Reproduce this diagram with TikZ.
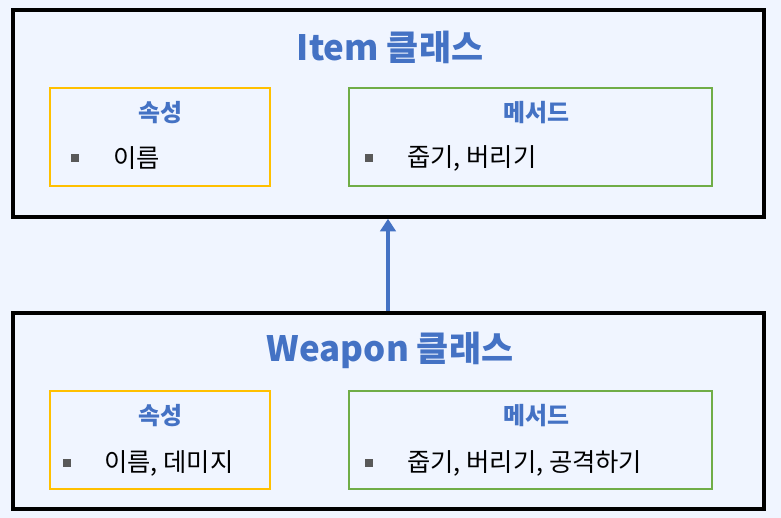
\documentclass[tikz,border=0pt]{standalone}
\usepackage{fontspec}
\setmainfont{Noto Sans CJK KR}
\usetikzlibrary{arrows.meta,positioning}
\definecolor{pageblue}{HTML}{F0F5FF}
\definecolor{titleblue}{HTML}{4472C4}
\definecolor{attryellow}{HTML}{FFC000}
\definecolor{methgreen}{HTML}{70AD47}
\definecolor{bulletgray}{HTML}{595959}

\begin{document}
\begin{tikzpicture}[
    x=0.025cm, y=-0.025cm,
    classbox/.style={draw=black, line width=2.5pt, minimum width=751*0.025cm},
    attrbox/.style={draw=attryellow, line width=2.1pt, minimum width=220*0.025cm, minimum height=98*0.025cm},
    methbox/.style={draw=methgreen, line width=2.1pt, minimum width=363*0.025cm, minimum height=98*0.025cm},
    classtitle/.style={font=\bfseries\fontsize{24.8}{28}\selectfont, text=titleblue},
    boxhead/.style={font=\bfseries\fontsize{17}{20}\selectfont, text=titleblue},
    member/.style={anchor=west, font=\fontsize{18}{20}\selectfont, text=black, inner sep=0pt},
    bullet/.style={fill=bulletgray, minimum size=5.5pt, inner sep=0pt}
]

\fill[pageblue] (0,0) rectangle (781,518);
\useasboundingbox (0,0) rectangle (781,518);

% Item class
\node[classbox, minimum height=207*0.025cm] (item) at (388.5, 113.5) {};
\node[classtitle] (itemtitle) at (390, 47) {Item 클래스};
\node[attrbox] (itemattr) at (160, 137) {};
\node[boxhead] (itemattrhead) at (160, 113) {속성};
\node[bullet] (itemattrbul) at (75, 158) {};
\node[member] (itemattrtext) at (113, 158) {이름};
\node[methbox] (itemmeth) at (530.5, 137) {};
\node[boxhead] (itemmethhead) at (536, 113) {메서드};
\node[bullet] (itemmethbul) at (369, 158) {};
\node[member] (itemmethtext) at (407, 158) {줍기, 버리기};

% Weapon class
\node[classbox, minimum height=196*0.025cm] (weapon) at (388.5, 411) {};
\node[classtitle] (weapontitle) at (390, 350) {Weapon 클래스};
\node[attrbox] (weaponattr) at (160, 440) {};
\node[boxhead] (weaponattrhead) at (160, 416) {속성};
\node[bullet] (weaponattrbul) at (67, 463) {};
\node[member] (weaponattrtext) at (104, 463) {이름, 데미지};
\node[methbox] (weaponmeth) at (530.5, 440) {};
\node[boxhead] (weaponmethhead) at (536, 416) {메서드};
\node[bullet] (weaponmethbul) at (369, 463) {};
\node[member] (weaponmethtext) at (407, 463) {줍기, 버리기, 공격하기};

% inheritance
\draw[titleblue, line width=3pt, -{Triangle[width=11pt,length=9pt]}] (weapon.north -| 388,0) -- (item.south -| 388,0);

\end{tikzpicture}
\end{document}
